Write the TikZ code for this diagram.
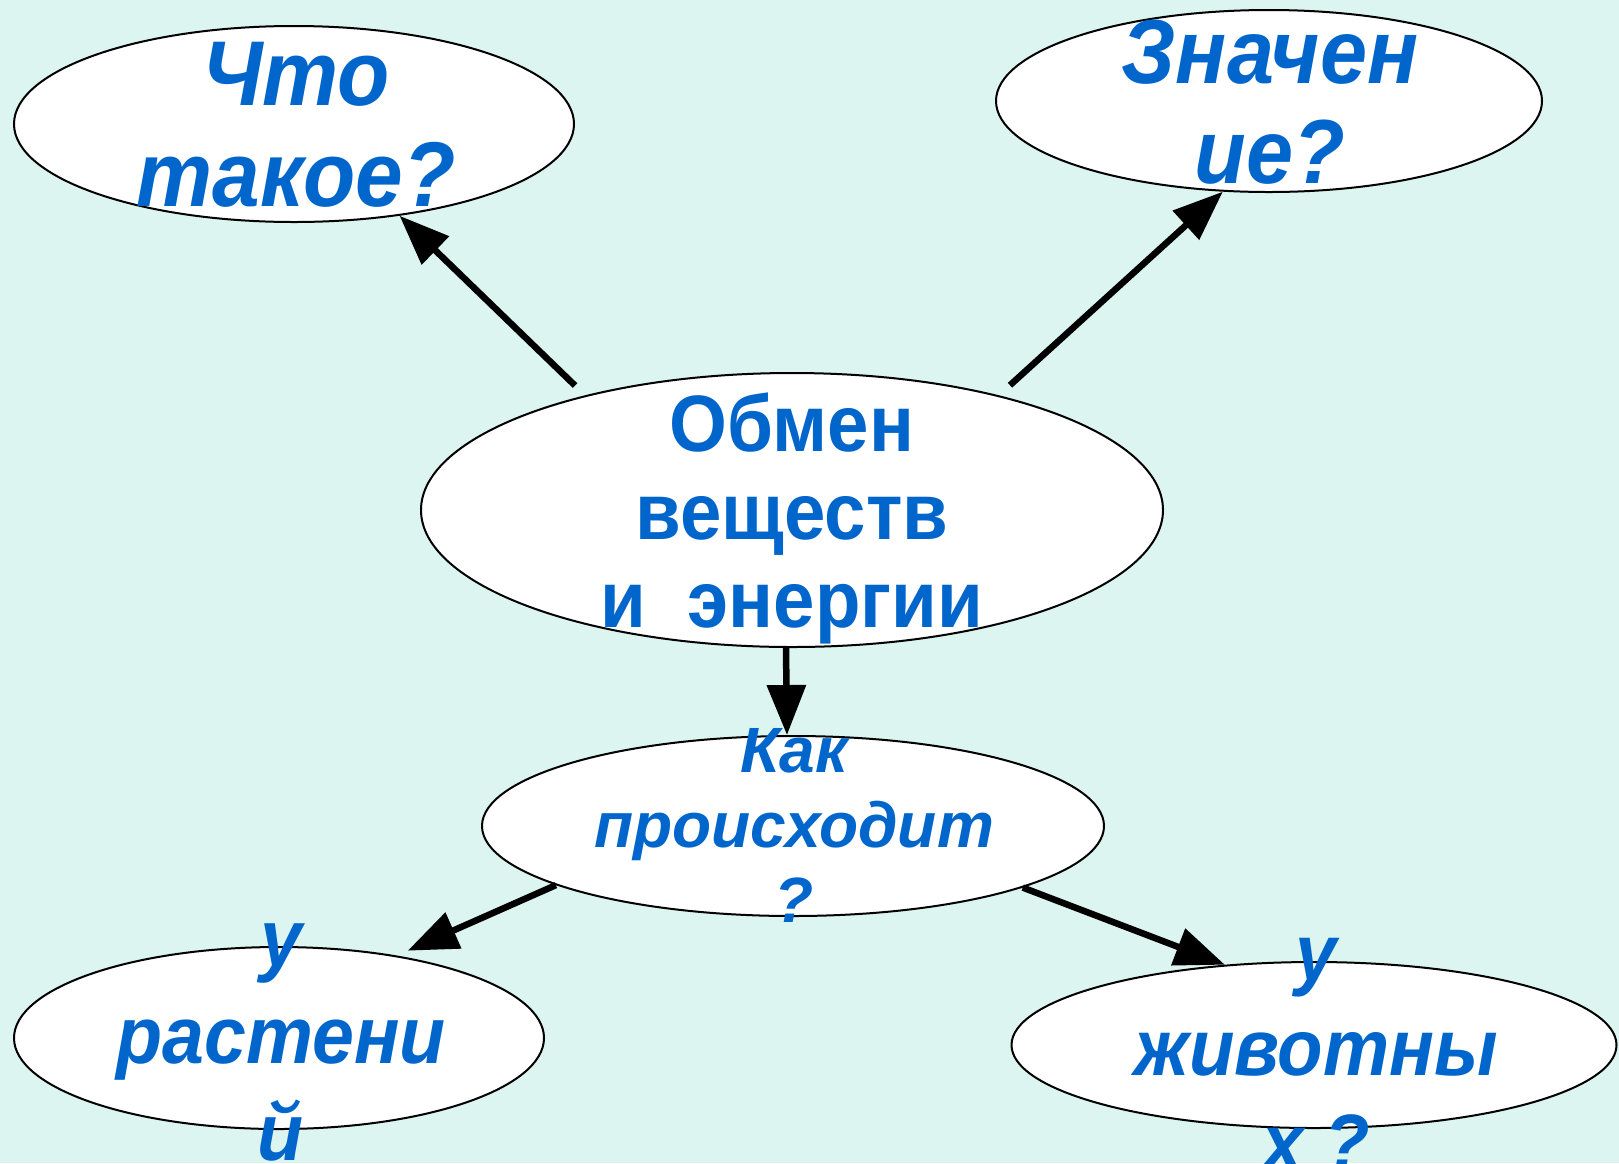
\documentclass[tikz,border=0pt]{standalone}
\usepackage{fontspec}
\setmainfont{Liberation Sans}
\newfontfamily\narrowsans[FakeStretch=0.93]{Liberation Sans}
\usetikzlibrary{shapes.geometric,arrows.meta}
\definecolor{mint}{HTML}{DCF5F0}
\definecolor{ink}{HTML}{0066CC}
\begin{document}
\begin{tikzpicture}[x=1pt,y=-1pt,
		bubble/.style={ellipse,draw,line width=2pt,fill=white,inner sep=0pt},
		word/.style={text=ink,align=center,anchor=base,inner sep=0pt},
		link/.style={line width=6.5pt,-{Triangle[length=50pt,width=38pt]}}]
		\useasboundingbox (0,0) rectangle (1619,1163);
		\clip (0,0) rectangle (1619,1163);
		\fill [mint] (0,0) rectangle (1619,1163);
		\node [bubble,minimum width=560pt,minimum height=196pt] (what)    at (294,124)  {};
		\node [bubble,minimum width=546pt,minimum height=182pt] (mean)    at (1269,101) {};
		\node [bubble,minimum width=742pt,minimum height=274pt] (main)    at (792,510)  {};
		\node [bubble,minimum width=622pt,minimum height=180pt] (how)     at (793,826)  {};
		\node [bubble,minimum width=530pt,minimum height=182pt] (plants)  at (279,1038) {};
		\node [bubble,minimum width=605pt,minimum height=166pt] (animals) at (1314,1045) {};
		\node [word,font=\narrowsans\fontsize{92}{101}\selectfont\bfseries\itshape] (whatlbl) at (296,206) {Что\\такое?};
		\node [word,font=\narrowsans\fontsize{91}{100}\selectfont\bfseries\itshape] (meanlbl) at (1270,183) {Значен\\ие?};
		\node [word,font=\narrowsans\fontsize{80}{88}\selectfont\bfseries] (mainlbl) at (792,627) {Обмен\\веществ\\и\ \ энергии};
		\node [word,font=\fontsize{64}{75}\selectfont\bfseries\itshape] (howlbl) at (794,922) {Как\\происходит\\?};
		\node [word,font=\narrowsans\fontsize{81}{97}\selectfont\bfseries\itshape] (plantslbl) at (281,1160) {у\\растени\\й};
		\node [word,font=\narrowsans\fontsize{80}{95}\selectfont\bfseries\itshape] (animalslbl) at (1316,1170) {у\\животны\\х ?};
		\draw [link,shorten <=14pt] (main.151) -- (what.-41);
		\draw [link,shorten <=15pt] (main.29) -- (mean.243);
		\draw [link] ([xshift=-6pt]main.south) -- ([xshift=-6pt]how.north);
		\draw [link,shorten >=12pt] (how.194) -- (plants.35);
		\draw [link] (how.-15) -- (animals.138);
\end{tikzpicture}
\end{document}
